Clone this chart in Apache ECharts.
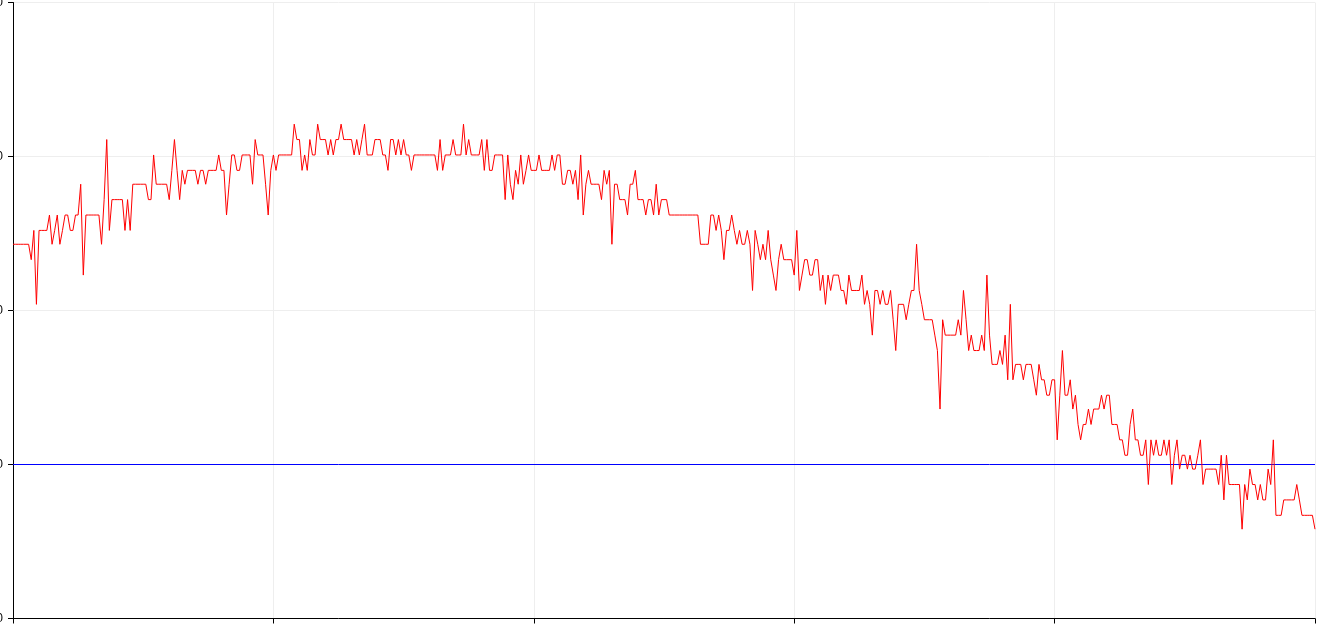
<!DOCTYPE html>
<html>
<head>
<meta charset="utf-8">
<script src="https://cdn.jsdelivr.net/npm/echarts/dist/echarts.min.js"></script>
<style>
html,body{margin:0;padding:0;background:#fff;}
#chart{width:1332px;height:625px;}
</style>
</head>
<body>
<div id="chart"></div>
<script>
// Series values (one per x index 0..500)
const values = [
24.3,24.3,24.3,24.3,24.3,24.3,24.3,23.3,25.2,20.4,
25.2,25.2,25.2,25.2,26.2,24.3,25.2,26.2,24.3,25.2,
26.2,26.2,25.2,25.2,26.2,26.2,28.2,22.3,26.2,26.2,
26.2,26.2,26.2,26.2,24.3,27.2,31.1,25.2,27.2,27.2,
27.2,27.2,27.2,25.2,27.2,25.2,28.2,28.2,28.2,28.2,
28.2,28.2,27.2,27.2,30.1,28.2,28.2,28.2,28.2,28.2,
27.2,29.1,31.1,29.1,27.2,29.1,28.2,29.1,29.1,29.1,
29.1,28.2,29.1,29.1,28.2,29.1,29.1,29.1,29.1,30.1,
29.1,29.1,26.2,28.2,30.1,30.1,29.1,29.1,30.1,30.1,
30.1,30.1,28.2,31.1,30.1,30.1,30.1,28.2,26.2,29.1,
30.1,29.1,30.1,30.1,30.1,30.1,30.1,30.1,32.1,31.1,
31.1,29.1,30.1,29.1,31.1,30.1,30.1,32.1,31.1,31.1,
31.1,30.1,31.1,30.1,31.1,31.1,32.1,31.1,31.1,31.1,
31.1,30.1,31.1,30.1,31.1,32.1,30.1,30.1,30.1,31.1,
31.1,31.1,30.1,30.1,29.1,31.1,31.1,30.1,31.1,30.1,
31.1,30.1,30.1,29.1,30.1,30.1,30.1,30.1,30.1,30.1,
30.1,30.1,30.1,29.1,31.1,29.1,30.1,30.1,30.1,31.1,
30.1,30.1,30.1,32.1,30.1,31.1,30.1,30.1,30.1,30.1,
31.1,29.1,31.1,29.1,29.1,30.1,30.1,30.1,30.1,27.2,
30.1,28.2,27.2,29.1,28.2,30.1,28.2,29.1,30.1,29.1,
29.1,29.1,30.1,29.1,29.1,29.1,29.1,30.1,29.1,30.1,
30.1,28.2,28.2,29.1,29.1,28.2,29.1,27.2,30.1,26.2,
28.2,29.1,28.2,28.2,28.2,28.2,27.2,29.1,28.2,29.1,
24.3,28.2,28.2,27.2,27.2,27.2,26.2,28.2,28.2,29.1,
27.2,27.2,27.2,26.2,27.2,27.2,26.2,28.2,26.2,27.2,
27.2,27.2,26.2,26.2,26.2,26.2,26.2,26.2,26.2,26.2,
26.2,26.2,26.2,26.2,24.3,24.3,24.3,24.3,26.2,26.2,
25.2,26.2,25.2,23.3,25.2,25.2,26.2,25.2,24.3,25.2,
24.3,24.3,25.2,24.3,21.3,25.2,24.3,23.3,24.3,23.3,
25.2,23.3,22.3,21.3,23.3,24.3,23.3,23.3,23.3,23.3,
22.3,25.2,21.3,22.3,23.3,23.3,22.3,22.3,23.3,23.3,
21.3,22.3,20.4,22.3,21.3,22.3,22.3,22.3,21.3,21.3,
20.4,22.3,21.3,21.3,21.3,21.3,22.3,20.4,21.3,20.4,
18.4,21.3,21.3,20.4,21.3,20.4,20.4,21.3,19.4,17.4,
20.4,20.4,20.4,19.4,20.4,21.3,21.3,24.3,21.3,20.4,
19.4,19.4,19.4,19.4,18.4,17.4,13.6,19.4,18.4,18.4,
18.4,18.4,18.4,19.4,18.4,21.3,19.4,17.4,18.4,17.4,
17.4,17.4,18.4,17.4,22.3,18.4,16.5,16.5,16.5,17.4,
16.5,18.4,15.5,20.4,15.5,16.5,16.5,16.5,15.5,16.5,
16.5,16.5,15.5,14.5,16.5,15.5,15.5,14.5,14.5,15.5,
15.5,11.6,14.5,17.4,14.5,14.5,15.5,13.6,14.5,12.6,
11.6,12.6,12.6,13.6,12.6,13.6,13.6,13.6,14.5,13.6,
14.5,14.5,12.6,12.6,12.6,11.6,11.6,10.6,10.6,12.6,
13.6,11.6,11.6,10.6,10.6,11.6,8.7,11.6,10.6,11.6,
10.6,10.6,11.6,10.6,11.6,8.7,10.6,11.6,9.7,10.6,
10.6,9.7,10.6,9.7,9.7,10.6,11.6,8.7,9.7,9.7,
9.7,9.7,9.7,8.7,10.6,7.7,10.6,8.7,8.7,8.7,
8.7,8.7,5.8,8.7,7.7,9.7,8.7,8.7,7.7,8.7,
7.7,7.7,9.7,8.7,11.6,6.7,6.7,6.7,7.7,7.7,
7.7,7.7,7.7,8.7,7.7,6.7,6.7,6.7,6.7,6.7,
5.8
];
// Axis tick settings
const yMin = 0, yMax = 40, yStep = 10;
const xMin = 0, xMax = 500, xStep = 100;
// Horizontal reference line value
const threshold = 10;

const chart = echarts.init(document.getElementById('chart'), null, {renderer: 'canvas'});
const points = values.map((v, i) => [i, v]);
const thresholdLine = [[xMin, threshold], [xMax, threshold]];

chart.setOption({
  animation: false,
  backgroundColor: '#ffffff',
  grid: {left: 13, right: 17, top: 2.5, bottom: 6.5, containLabel: false, outerBoundsMode: 'none'},
  xAxis: {
    type: 'value',
    min: xMin, max: xMax, interval: xStep,
    axisLine: {show: true, onZero: false, lineStyle: {color: '#000', width: 1}},
    axisTick: {show: true, length: 5, lineStyle: {color: '#000'}},
    axisLabel: {show: true, color: '#000', fontSize: 12},
    splitLine: {show: true, lineStyle: {color: '#eeeeee', width: 1}}
  },
  yAxis: {
    type: 'value',
    min: yMin, max: yMax, interval: yStep,
    axisLine: {show: true, lineStyle: {color: '#000', width: 1}},
    axisTick: {show: true, length: 5, lineStyle: {color: '#000'}},
    axisLabel: {show: true, color: '#000', fontSize: 12, margin: 10},
    splitLine: {show: true, lineStyle: {color: '#eeeeee', width: 1}}
  },
  series: [{
    type: 'line',
    data: thresholdLine,
    showSymbol: false,
    symbol: 'none',
    z: 1,
    lineStyle: {color: '#0000ff', width: 1},
    itemStyle: {color: '#0000ff'},
    emphasis: {disabled: true}
  }, {
    type: 'line',
    data: points,
    showSymbol: false,
    symbol: 'none',
    z: 2,
    lineStyle: {color: '#ff0000', width: 1},
    itemStyle: {color: '#ff0000'},
    emphasis: {disabled: true}
  }]
});
</script>
</body>
</html>
